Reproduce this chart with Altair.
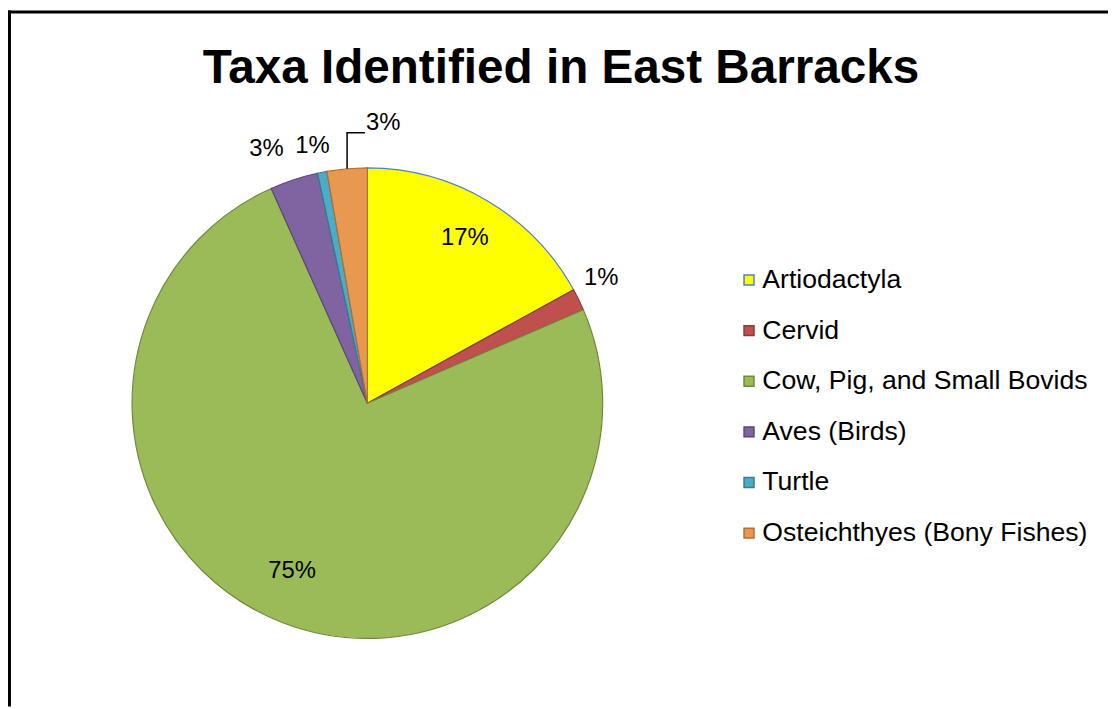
import math
import altair as alt
import pandas as pd

# ---- data ----
taxa = ["Artiodactyla", "Cervid", "Cow, Pig, and Small Bovids",
        "Aves (Birds)", "Turtle", "Osteichthyes (Bony Fishes)"]
share = [17.0, 1.5, 74.8, 3.3, 0.65, 2.75]
pct_labels = ["17%", "1%", "75%", "3%", "1%", "3%"]

# ---- styles / layout ----
fills = ["#FFFF00", "#C0504D", "#9BBB59", "#8064A2", "#4BACC6", "#E8994F"]
strokes = ["#4F81BD", "#8C3836", "#71893F", "#5C4776", "#357D91", "#B66D31"]
label_radius = [193, 267, 185, 275, 265]   # last slice uses a leader line
label_shift_deg = [0, -2, 3, -3.5, -1]
FONT = "Liberation Sans"
W, H = 1108, 701
CX, CY, R = 362, 395.5, 237

df = pd.DataFrame({"taxon": taxa, "value": share, "idx": list(range(len(taxa)))})

# label positions derived from the data (mid-angle of each slice)
total = sum(share)
cum = 0.0
mids = []
for v in share:
    mids.append((cum + v / 2) / total * 360.0)
    cum += v
lx, ly, lt = [], [], []
for i in range(len(taxa) - 1):
    a = math.radians(mids[i] + label_shift_deg[i])
    lx.append(CX + label_radius[i] * math.sin(a))
    ly.append(CY - label_radius[i] * math.cos(a))
    lt.append(pct_labels[i])
lab_df = pd.DataFrame({"px": lx, "py": ly, "t": lt})

# leader line for the last (small) slice
am = math.radians(mids[-1])
sx = CX + R * math.sin(am)
sy = CY - R * math.cos(am)
leader = pd.DataFrame({"px": [sx, sx, sx + 18], "py": [sy, 123, 123], "o": [0, 1, 2]})
lab2_df = pd.DataFrame({"px": [sx + 19], "py": [113], "t": [pct_labels[-1]]})

color_scale = alt.Scale(domain=taxa, range=fills)
stroke_scale = alt.Scale(domain=taxa, range=strokes)

legend_kw = dict(title=None, orient="none", legendX=733, legendY=258,
                 symbolType="square", symbolSize=100, symbolStrokeWidth=1.5,
                 labelFont=FONT, labelFontSize=26.8, labelColor="#000000",
                 labelOffset=0, rowPadding=23, labelLimit=600)

pie = alt.Chart(df).mark_arc(outerRadius=R, strokeWidth=1.2).encode(
    theta=alt.Theta("value:Q", stack=True),
    order=alt.Order("idx:Q"),
    color=alt.Color("taxon:N", scale=color_scale, sort=taxa,
                    legend=alt.Legend(**legend_kw)),
    stroke=alt.Stroke("taxon:N", scale=stroke_scale, sort=taxa,
                      legend=alt.Legend(**legend_kw)),
    x=alt.value(CX), y=alt.value(CY),
)

labels = alt.Chart(lab_df).mark_text(
    font=FONT, fontSize=24, color="#000000", align="center", baseline="middle"
).encode(
    x=alt.X("px:Q", scale=None, axis=None),
    y=alt.Y("py:Q", scale=None, axis=None),
    text="t:N",
)

labels2 = alt.Chart(lab2_df).mark_text(
    font=FONT, fontSize=24, color="#000000", align="left", baseline="middle"
).encode(
    x=alt.X("px:Q", scale=None, axis=None),
    y=alt.Y("py:Q", scale=None, axis=None),
    text="t:N",
)

lead = alt.Chart(leader).mark_line(color="#000000", strokeWidth=1.5).encode(
    x=alt.X("px:Q", scale=None, axis=None),
    y=alt.Y("py:Q", scale=None, axis=None),
    order="o:Q",
)

title = alt.Chart(pd.DataFrame({"t": ["Taxa Identified in East Barracks"]})).mark_text(
    font=FONT, fontSize=48, fontWeight="bold", color="#000000",
    align="center", baseline="alphabetic",
).encode(text="t:N", x=alt.value(557), y=alt.value(73))

border_top = alt.Chart(pd.DataFrame({"a": [0]})).mark_rule(
    color="#000000", strokeWidth=3).encode(
    x=alt.value(0), x2=alt.value(W), y=alt.value(1.5))
border_left = alt.Chart(pd.DataFrame({"a": [0]})).mark_rule(
    color="#000000", strokeWidth=3).encode(
    x=alt.value(1.5), y=alt.value(0), y2=alt.value(H))

chart = alt.layer(border_top, border_left, title, pie, lead, labels, labels2).properties(
    width=W, height=H,
    autosize=alt.AutoSizeParams(type="none"),
    padding=0,
).configure_view(stroke=None)

chart.save("out.html", embed_options={"renderer": "svg", "actions": False})
